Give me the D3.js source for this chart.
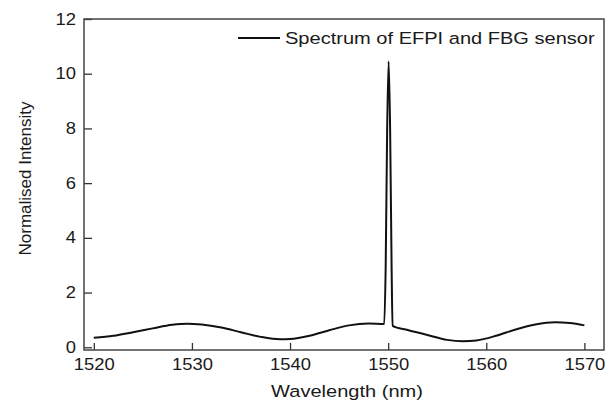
<!DOCTYPE html>
<html>
<head>
<meta charset="utf-8">
<script src="https://cdn.jsdelivr.net/npm/d3@7"></script>
<style>
  body { margin: 0; background: #fff; }
  text { font-family: "Liberation Sans", Arial, sans-serif; fill: #1a1a1a; }
</style>
</head>
<body>
<div id="chart"></div>
<script>
// spectrum
const wavelength = [1520, 1522, 1524, 1526, 1528, 1529.5, 1531, 1533, 1535, 1537, 1539, 1540,
  1542, 1544, 1546, 1548, 1549.6, 1549.75, 1549.9, 1550.05, 1550.2, 1550.35, 1550.45,
  1552, 1554, 1556, 1557.6, 1559, 1561, 1563, 1565, 1567, 1568.5, 1570];
const intensity = [0.35, 0.42, 0.55, 0.69, 0.82, 0.86, 0.83, 0.72, 0.55, 0.38, 0.29, 0.30,
  0.42, 0.62, 0.80, 0.87, 0.85, 3.0, 8.0, 10.45, 8.0, 3.0, 0.78,
  0.63, 0.45, 0.27, 0.22, 0.25, 0.42, 0.65, 0.83, 0.91, 0.89, 0.80];
const xTicks = [1520, 1530, 1540, 1550, 1560, 1570];
const yTicks = [0, 2, 4, 6, 8, 10, 12];
const seriesName = "Spectrum of EFPI and FBG sensor";

const data = wavelength.map((w, i) => [w, intensity[i]]);

let margin = {top: 19, right: 7, bottom: 50, left: 84},
    width = 611 - margin.left - margin.right,
    height = 400 - margin.top - margin.bottom;

let svg = d3.select("#chart")
    .append("svg")
    .attr("width", 611)
    .attr("height", 400)
    .style("background-color", "#fff")
    .append("g")
    .attr("transform", `translate(${margin.left},${margin.top})`);

let x = d3.scaleLinear()
    .domain([1519, 1572])
    .range([0, width]);

let y = d3.scaleLinear()
    .domain([-0.1, 12])
    .range([height, 0]);

const stretch = "scale(1.15,1)";

// x axis
let gx = svg.append("g")
    .attr("transform", `translate(0,${height})`)
    .call(d3.axisBottom(x).tickValues(xTicks).tickFormat(d3.format("d"))
      .tickSizeInner(-7).tickSizeOuter(0).tickPadding(9));
gx.select(".domain").remove();
gx.selectAll("line").attr("stroke", "#333").attr("stroke-width", 1.3);
gx.selectAll("text").attr("font-size", 16).attr("fill", "#1a1a1a")
    .attr("font-family", "Liberation Sans, Arial, sans-serif").attr("transform", stretch);

// y axis
let gy = svg.append("g")
    .call(d3.axisLeft(y).tickValues(yTicks)
      .tickSizeInner(-8).tickSizeOuter(0).tickPadding(7));
gy.select(".domain").remove();
gy.selectAll("line").attr("stroke", "#333").attr("stroke-width", 1.3);
gy.selectAll("text").attr("font-size", 16).attr("fill", "#1a1a1a")
    .attr("font-family", "Liberation Sans, Arial, sans-serif").attr("transform", stretch);

// frame
svg.append("rect")
    .attr("width", width)
    .attr("height", height)
    .attr("fill", "none")
    .attr("stroke", "#444")
    .attr("stroke-width", 1.5);

// the line
svg.append("path")
    .datum(data)
    .attr("fill", "none")
    .attr("stroke", "#111")
    .attr("stroke-width", 2)
    .attr("stroke-linejoin", "round")
    .attr("d", d3.line()
      .curve(d3.curveMonotoneX)
      .x(d => x(d[0]))
      .y(d => y(d[1])));

// legend
svg.append("line")
    .attr("x1", 154).attr("x2", 196)
    .attr("y1", 19).attr("y2", 19)
    .attr("stroke", "#111").attr("stroke-width", 2);
svg.append("text")
    .attr("transform", `translate(201,25) scale(1.18,1)`)
    .attr("font-size", 17)
    .text(seriesName);

// axis titles
svg.append("text")
    .attr("transform", `translate(${width / 2 + 3},${height + 47}) scale(1.18,1)`)
    .attr("text-anchor", "middle")
    .attr("font-size", 17)
    .text("Wavelength (nm)");

svg.append("text")
    .attr("transform", `translate(-53,${159.5}) rotate(-90)`)
    .attr("text-anchor", "middle")
    .attr("font-size", 17)
    .text("Normalised Intensity");
</script>
</body>
</html>
